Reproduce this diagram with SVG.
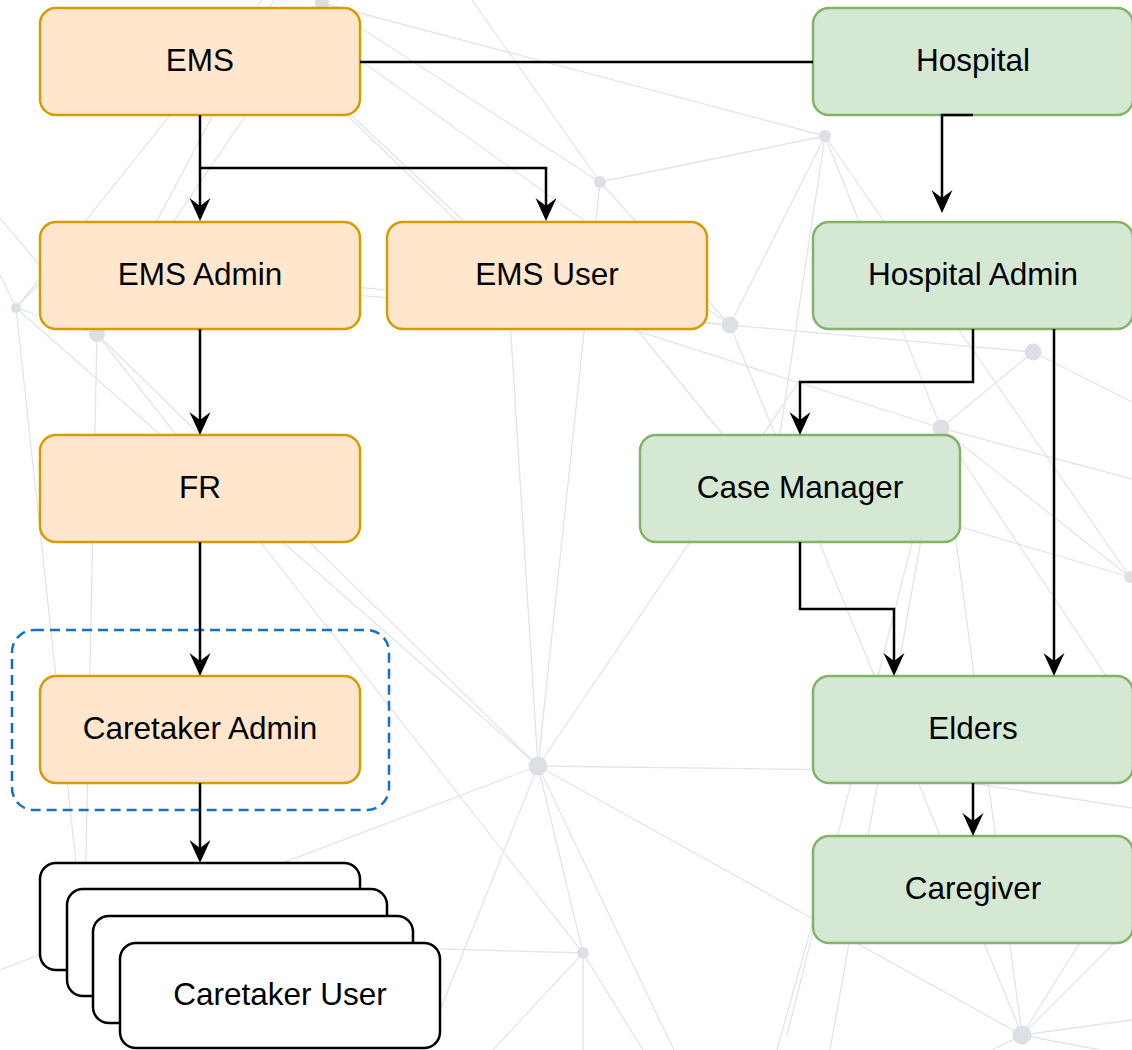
<svg xmlns="http://www.w3.org/2000/svg" width="1132" height="1050" viewBox="0 0 1132 1050">
<defs>
<style>
.bg line{stroke:#e1e5ea;stroke-width:1.3;fill:none}
.bg circle{fill:#dce0e5}
.orange rect{fill:#ffe6cc;stroke:#d79b00;stroke-width:2.5}
.green rect{fill:#d5e8d4;stroke:#82b366;stroke-width:2.5}
.stack rect{fill:#ffffff;stroke:#000000;stroke-width:2.5}
text{font-family:"Liberation Sans",Arial,Helvetica,sans-serif;font-size:31.5px;fill:#000000;text-anchor:middle}
.edge{fill:none;stroke:#000000;stroke-width:2.5}
.arrow{marker-end:url(#arr)}
</style>
<marker id="arr" viewBox="0 -11 23 22" markerWidth="23" markerHeight="22" refX="13" refY="0" orient="auto" markerUnits="userSpaceOnUse">
<path d="M0,-10.5 L23,0 L0,10.5 L8,0 Z" fill="#000000"/>
</marker>
</defs>
<rect x="0" y="0" width="1132" height="1050" fill="#ffffff"/>
<g id="background" class="bg">
<line x1="16" y1="308" x2="262" y2="0"/>
<line x1="97" y1="334" x2="322" y2="3"/>
<line x1="97" y1="334" x2="274" y2="0"/>
<line x1="0" y1="218" x2="97" y2="334"/>
<line x1="0" y1="275" x2="16" y2="308"/>
<line x1="16" y1="308" x2="80" y2="240"/>
<line x1="16" y1="308" x2="97" y2="334"/>
<line x1="16" y1="308" x2="80" y2="900"/>
<line x1="97" y1="334" x2="85" y2="900"/>
<line x1="16" y1="308" x2="538" y2="766"/>
<line x1="97" y1="334" x2="538" y2="766"/>
<line x1="97" y1="334" x2="583" y2="953"/>
<line x1="40" y1="270" x2="730" y2="325"/>
<line x1="40" y1="255" x2="730" y2="325"/>
<line x1="322" y1="3" x2="825" y2="136"/>
<line x1="322" y1="3" x2="600" y2="182"/>
<line x1="290" y1="10" x2="730" y2="325"/>
<line x1="472" y1="0" x2="600" y2="182"/>
<line x1="300" y1="70" x2="570" y2="330"/>
<line x1="330" y1="95" x2="470" y2="227"/>
<line x1="600" y1="182" x2="825" y2="136"/>
<line x1="600" y1="182" x2="730" y2="325"/>
<line x1="600" y1="182" x2="538" y2="766"/>
<line x1="825" y1="136" x2="730" y2="325"/>
<line x1="825" y1="136" x2="941" y2="428"/>
<line x1="825" y1="136" x2="1130" y2="577"/>
<line x1="825" y1="136" x2="770" y2="500"/>
<line x1="730" y1="325" x2="1033" y2="352"/>
<line x1="730" y1="325" x2="1022" y2="1035"/>
<line x1="540" y1="300" x2="941" y2="428"/>
<line x1="580" y1="260" x2="760" y2="480"/>
<line x1="1033" y1="352" x2="941" y2="428"/>
<line x1="1033" y1="352" x2="1132" y2="402"/>
<line x1="941" y1="428" x2="1130" y2="577"/>
<line x1="941" y1="428" x2="1132" y2="479"/>
<line x1="941" y1="428" x2="1132" y2="715"/>
<line x1="941" y1="428" x2="1022" y2="1035"/>
<line x1="941" y1="428" x2="787" y2="1035"/>
<line x1="941" y1="428" x2="830" y2="1050"/>
<line x1="700" y1="450" x2="1130" y2="577"/>
<line x1="538" y1="766" x2="505" y2="240"/>
<line x1="538" y1="766" x2="800" y2="380"/>
<line x1="538" y1="766" x2="1000" y2="772"/>
<line x1="538" y1="766" x2="1022" y2="1035"/>
<line x1="538" y1="766" x2="583" y2="953"/>
<line x1="538" y1="766" x2="674" y2="1050"/>
<line x1="538" y1="766" x2="424" y2="1050"/>
<line x1="538" y1="766" x2="0" y2="970"/>
<line x1="583" y1="953" x2="300" y2="945"/>
<line x1="583" y1="953" x2="493" y2="1050"/>
<line x1="583" y1="953" x2="583" y2="1050"/>
<line x1="583" y1="953" x2="643" y2="1050"/>
<line x1="1022" y1="1035" x2="1200" y2="750"/>
<line x1="1022" y1="1035" x2="1132" y2="925"/>
<line x1="1022" y1="1035" x2="1132" y2="1020"/>
<line x1="1022" y1="1035" x2="992" y2="1050"/>
<line x1="1022" y1="1035" x2="1100" y2="1050"/>
<line x1="1132" y1="808" x2="900" y2="772"/>
<line x1="777" y1="1050" x2="830" y2="860"/>
<circle cx="16" cy="308" r="5"/>
<circle cx="97" cy="334" r="8"/>
<circle cx="322" cy="3" r="7"/>
<circle cx="600" cy="182" r="6"/>
<circle cx="825" cy="136" r="6"/>
<circle cx="730" cy="325" r="8.5"/>
<circle cx="1033" cy="352" r="8.5"/>
<circle cx="941" cy="428" r="8.5"/>
<circle cx="1130" cy="577" r="6"/>
<circle cx="538" cy="766" r="9.5"/>
<circle cx="583" cy="953" r="6"/>
<circle cx="1022" cy="1035" r="9.5"/>
</g>
<g id="caretaker-group">
<rect x="12" y="630" width="377" height="180" rx="22" fill="none" stroke="#1172cc" stroke-width="2.5" stroke-dasharray="10 6"/>
</g>
<g id="ems" class="orange"><rect x="40" y="8" width="320" height="107" rx="16"/><text x="200" y="71">EMS</text></g>
<g id="ems-admin" class="orange"><rect x="40" y="222" width="320" height="107" rx="16"/><text x="200" y="285">EMS Admin</text></g>
<g id="ems-user" class="orange"><rect x="387" y="222" width="320" height="107" rx="16"/><text x="547" y="285">EMS User</text></g>
<g id="fr" class="orange"><rect x="40" y="435" width="320" height="107" rx="16"/><text x="200" y="498">FR</text></g>
<g id="caretaker-admin" class="orange"><rect x="40" y="676" width="320" height="107" rx="16"/><text x="200" y="739">Caretaker Admin</text></g>
<g id="caretaker-user" class="stack">
<rect x="40" y="863" width="320" height="107" rx="16"/>
<rect x="67" y="889" width="320" height="107" rx="16"/>
<rect x="93" y="916" width="320" height="107" rx="16"/>
<rect x="120" y="943" width="320" height="105" rx="16"/>
<text x="280" y="1005">Caretaker User</text>
</g>
<g id="hospital" class="green"><rect x="813" y="8" width="320" height="107" rx="16"/><text x="973" y="71">Hospital</text></g>
<g id="hospital-admin" class="green"><rect x="813" y="222" width="320" height="107" rx="16"/><text x="973" y="285">Hospital Admin</text></g>
<g id="case-manager" class="green"><rect x="640" y="435" width="320" height="107" rx="16"/><text x="800" y="498">Case Manager</text></g>
<g id="elders" class="green"><rect x="813" y="676" width="320" height="107" rx="16"/><text x="973" y="739">Elders</text></g>
<g id="caregiver" class="green"><rect x="813" y="836" width="320" height="107" rx="16"/><text x="973" y="899">Caregiver</text></g>
<g id="connectors">
<path class="edge" d="M360,62 H813"/>
<path class="edge arrow" d="M200,115 V211"/>
<path class="edge arrow" d="M200,168 H546 V211"/>
<path class="edge arrow" d="M200,329 V425"/>
<path class="edge arrow" d="M200,542 V666"/>
<path class="edge arrow" d="M200,783 V853"/>
<path class="edge arrow" d="M973,115 H942 V203"/>
<path class="edge arrow" d="M973,329 V382 H800 V425"/>
<path class="edge arrow" d="M1054,329 V666"/>
<path class="edge arrow" d="M800,542 V609 H894 V666"/>
<path class="edge arrow" d="M973,783 V826"/>
</g>
</svg>
